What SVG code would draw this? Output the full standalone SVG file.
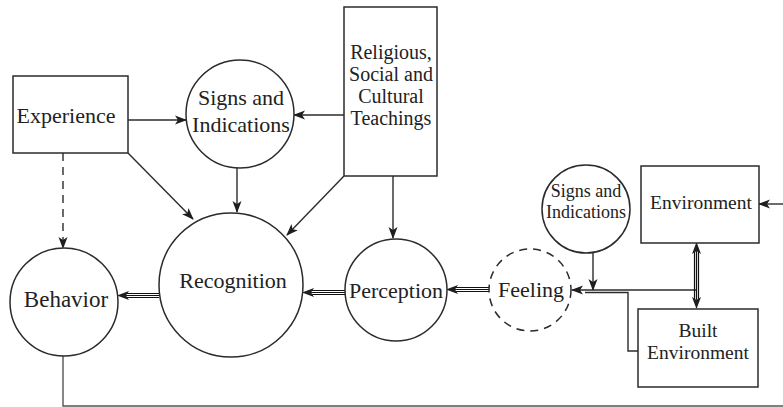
<svg xmlns="http://www.w3.org/2000/svg" width="783" height="407" viewBox="0 0 783 407">
<style>
.n{fill:#fff;stroke:#2b2b2b;stroke-width:1.5}
.d{stroke-dasharray:8 6}
.t{fill:#222;text-anchor:middle}
.c{fill:none;stroke:#2b2b2b;stroke-width:1.4}
.tr{fill:none;stroke:#111;stroke-width:1.2}
</style>
<defs>
<marker id="ah" markerWidth="12" markerHeight="10" refX="11" refY="5" orient="auto-start-reverse" markerUnits="userSpaceOnUse">
<path d="M0,0.5 L12,5 L0,9.5 L3,5 z" fill="#1e1e1e"/>
</marker>
</defs>
<rect width="783" height="407" fill="#fff"/>
<g id="connectors">
<line class="c" x1="128" y1="120" x2="186" y2="120" marker-end="url(#ah)"/>
<line class="c" x1="344" y1="115" x2="294" y2="115" marker-end="url(#ah)"/>
<line class="c d" x1="63" y1="153" x2="63" y2="248" marker-end="url(#ah)"/>
<line class="c" x1="128" y1="153" x2="193" y2="219" marker-end="url(#ah)"/>
<line class="c" x1="237" y1="168" x2="237" y2="212" marker-end="url(#ah)"/>
<line class="c" x1="344" y1="176" x2="287" y2="235" marker-end="url(#ah)"/>
<line class="c" x1="393" y1="176" x2="393" y2="238" marker-end="url(#ah)"/>
<line class="c" x1="783" y1="204" x2="759" y2="204" marker-end="url(#ah)"/>
<line class="c" x1="593" y1="252" x2="593" y2="290" marker-end="url(#ah)"/>
<line class="c" x1="697" y1="290" x2="572" y2="290" marker-end="url(#ah)"/>
<polyline class="c" points="638,351 628,351 628,292.5 585,292.5"/>
<polyline class="c" points="63,355 63,406 783,406" style="stroke:#555"/>
<g class="tr">
<line x1="490" y1="287.5" x2="455" y2="287.5"/><line x1="490" y1="289.5" x2="455" y2="289.5"/><line x1="490" y1="291.5" x2="455" y2="291.5"/>
<line x1="345" y1="290.5" x2="311" y2="290.5"/><line x1="345" y1="292.5" x2="311" y2="292.5"/><line x1="345" y1="294.5" x2="311" y2="294.5"/>
<line x1="159" y1="293.5" x2="126" y2="293.5"/><line x1="159" y1="295.5" x2="126" y2="295.5"/><line x1="159" y1="297.5" x2="126" y2="297.5"/>
<line x1="694.5" y1="251" x2="694.5" y2="300"/><line x1="696.5" y1="251" x2="696.5" y2="300"/><line x1="698.5" y1="251" x2="698.5" y2="300"/>
</g>
<line x1="456" y1="289.5" x2="447" y2="289.5" stroke="#2b2b2b" stroke-width="1" marker-end="url(#ah)"/>
<line x1="312" y1="292.5" x2="303" y2="292.5" stroke="#2b2b2b" stroke-width="1" marker-end="url(#ah)"/>
<line x1="127" y1="295.5" x2="118" y2="295.5" stroke="#2b2b2b" stroke-width="1" marker-end="url(#ah)"/>
<line x1="696.5" y1="252" x2="696.5" y2="243" stroke="#2b2b2b" stroke-width="1" marker-end="url(#ah)"/>
<line x1="696.5" y1="299" x2="696.5" y2="308" stroke="#2b2b2b" stroke-width="1" marker-end="url(#ah)"/>
</g>
<g font-family="'Liberation Serif', 'DejaVu Serif', serif">
<g id="experience"><rect class="n" x="13" y="76" width="115" height="77"/><text class="t" x="66" y="123" font-size="22">Experience</text></g>
<g id="signs-top"><circle class="n" cx="240" cy="114" r="54"/><text class="t" x="241" y="105" font-size="22">Signs and</text><text class="t" x="241" y="132" font-size="22">Indications</text></g>
<g id="religious"><rect class="n" x="344" y="7" width="93" height="169"/>
<text class="t" x="391" y="59" font-size="20">Religious,</text><text class="t" x="391" y="81" font-size="20">Social and</text><text class="t" x="391" y="103" font-size="20">Cultural</text><text class="t" x="391" y="125" font-size="20">Teachings</text></g>
<g id="behavior"><circle class="n" cx="64" cy="302" r="54"/><text class="t" x="66" y="307" font-size="23">Behavior</text></g>
<g id="recognition"><circle class="n" cx="231" cy="285" r="72"/><text class="t" x="233" y="288" font-size="22">Recognition</text></g>
<g id="perception"><circle class="n" cx="396" cy="290" r="51"/><text class="t" x="396" y="298" font-size="22">Perception</text></g>
<g id="feeling"><circle class="n d" cx="530" cy="290" r="41"/><text class="t" x="531" y="297" font-size="22">Feeling</text></g>
<g id="signs-small"><circle class="n" cx="586" cy="209" r="44"/><text class="t" x="586" y="197" font-size="18">Signs and</text><text class="t" x="586" y="218" font-size="18">Indications</text></g>
<g id="environment"><rect class="n" x="641" y="166" width="118" height="77"/><text class="t" x="701" y="209" font-size="19.5">Environment</text></g>
<g id="built-environment"><rect class="n" x="638" y="309" width="120" height="78"/><text class="t" x="698" y="337" font-size="19.5">Built</text><text class="t" x="698" y="359" font-size="19.5">Environment</text></g>
</g>
</svg>
